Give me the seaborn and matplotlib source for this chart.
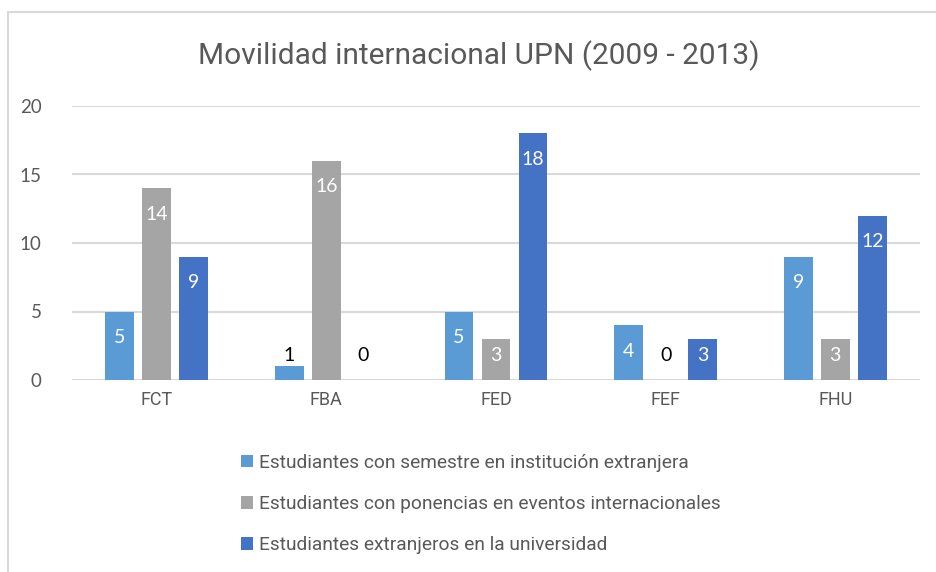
import matplotlib
matplotlib.use("Agg")
import matplotlib.pyplot as plt
import seaborn as sns
import pandas as pd
from matplotlib.patches import Rectangle

categories = ["FCT", "FBA", "FED", "FEF", "FHU"]
series_names = [
    "Estudiantes con semestre en institución extranjera",
    "Estudiantes con ponencias en eventos internacionales",
    "Estudiantes extranjeros en la universidad",
]
semestre = [5, 1, 5, 4, 9]
ponencias = [14, 16, 3, 0, 3]
extranjeros = [9, 0, 18, 3, 12]
title = "Movilidad internacional UPN (2009 - 2013)"
yticks = [0, 5, 10, 15, 20]

colors = ["#5B9BD5", "#A5A5A5", "#4472C4"]
text_color = "#595959"
grid_color = "#D9D9D9"
narrow = ["Roboto", "Liberation Sans", "DejaVu Sans"]
num_font = ["Lato", "DejaVu Sans"]

rows = []
for name, vals in zip(series_names, [semestre, ponencias, extranjeros]):
    for c, v in zip(categories, vals):
        rows.append({"Facultad": c, "Serie": name, "Valor": v})
df = pd.DataFrame(rows)

sns.set_style("white")
fig = plt.figure(figsize=(9.36, 5.72), dpi=100)
ax = fig.add_axes([72 / 936, 1 - 380 / 572, (920 - 72) / 936, (380 - 106) / 572])

sns.barplot(data=df, x="Facultad", y="Valor", hue="Serie", palette=colors,
            width=0.655, gap=0.22, ax=ax, saturation=1, errorbar=None,
            linewidth=0)

ax.set_ylim(0, 20)
ax.set_xlim(-0.5, len(categories) - 0.5)
ax.set_yticks(yticks)
ax.yaxis.grid(True, color=grid_color, linewidth=1.5)
ax.set_axisbelow(True)
for s in ax.spines.values():
    s.set_visible(False)
ax.set_xlabel("")
ax.set_ylabel("")
ax.tick_params(axis="both", length=0)
ax.tick_params(axis="y", pad=22)
ax.tick_params(axis="x", pad=8)
for lab in ax.get_yticklabels():
    lab.set_fontfamily(num_font)
    lab.set_fontsize(13.5)
    lab.set_color(text_color)
for lab in ax.get_xticklabels():
    lab.set_fontfamily(narrow)
    lab.set_fontsize(13)
    lab.set_color(text_color)

# data labels
for cont, vals in zip(ax.containers, [semestre, ponencias, extranjeros]):
    for p, v in zip(cont.patches, vals):
        ly = max(v - 1.9, 1.82)
        inside = v > ly + 0.5
        ax.text(p.get_x() + p.get_width() / 2, ly, f"{v}", ha="center", va="center",
                fontsize=14, fontfamily=num_font,
                color="white" if inside else "black")

# legend
handles, labels = ax.get_legend_handles_labels()
ax.get_legend().remove()
fig.legend(handles, labels, loc="upper left", bbox_to_anchor=(233 / 936, 1 - 446 / 572),
           frameon=False, ncol=1, prop={"family": narrow, "size": 13.8},
           labelcolor=text_color, handlelength=0.65, handleheight=0.65,
           handletextpad=0.3, labelspacing=1.22, borderaxespad=0)

fig.text(479 / 936, 1 - 56 / 572, title, ha="center", va="center",
         fontsize=21.5, fontfamily=narrow, color=text_color)

fig.patches.append(Rectangle((8 / 936, -0.05), 1.2, 1 - 12 / 572 + 0.05,
                             transform=fig.transFigure, fill=False,
                             edgecolor=grid_color, linewidth=1.5, zorder=0))

fig.savefig("out.png", dpi=100, facecolor="white")
